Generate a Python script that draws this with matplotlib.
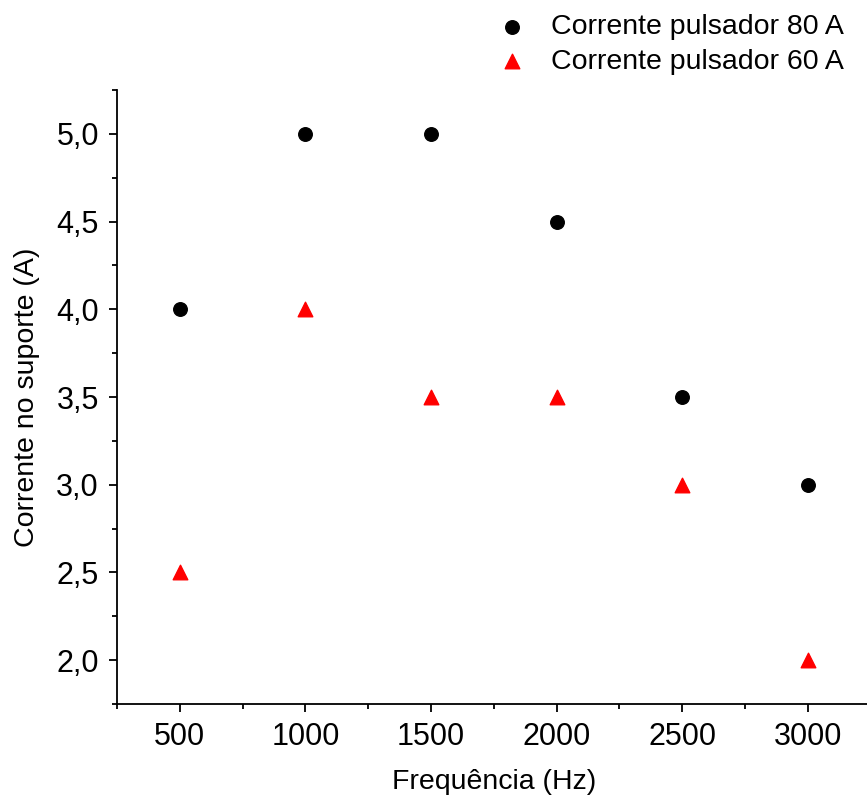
import matplotlib
matplotlib.use("Agg")
import matplotlib.pyplot as plt
from matplotlib.ticker import MultipleLocator, FuncFormatter

plt.rcParams['font.family'] = ['Liberation Sans', 'DejaVu Sans']

freq = [500, 1000, 1500, 2000, 2500, 3000]
i80 = [4.0, 5.0, 5.0, 4.5, 3.5, 3.0]
i60 = [2.5, 4.0, 3.5, 3.5, 3.0, 2.0]

fig = plt.figure(figsize=(8.67, 8.05), dpi=100)
ax = fig.add_axes([117/867, 1-704/805, 753.6/867, (704-90)/805])

ax.scatter(freq, i80, s=95, marker='o', color='black', label='Corrente pulsador 80 A', zorder=3)
ax.scatter(freq, i60, s=110, marker='^', color='red', label='Corrente pulsador 60 A', zorder=3)

ax.set_xlim(250, 3250)
ax.set_ylim(1.75, 5.25)
ax.xaxis.set_major_locator(MultipleLocator(500))
ax.xaxis.set_minor_locator(MultipleLocator(250))
ax.yaxis.set_major_locator(MultipleLocator(0.5))
ax.yaxis.set_minor_locator(MultipleLocator(0.25))
ax.yaxis.set_major_formatter(FuncFormatter(lambda v, p: f'{v:.1f}'.replace('.', ',')))
ax.xaxis.set_major_formatter(FuncFormatter(lambda v, p: f'{v:.0f}'))

for s in ['top', 'right']:
    ax.spines[s].set_visible(False)
for s in ['left', 'bottom']:
    ax.spines[s].set_linewidth(1.3)
ax.tick_params(which='major', direction='out', length=6, width=1.3, labelsize=22, pad=7)
ax.tick_params(which='minor', direction='out', length=3.5, width=1.3)

ax.set_xlabel('Frequência (Hz)', fontsize=20.5, labelpad=12)
ax.set_ylabel('Corrente no suporte (A)', fontsize=20.5, labelpad=12)

fig.legend(loc='upper left', bbox_to_anchor=(0.544, 0.997), frameon=False, fontsize=20.5,
           handletextpad=0.35, labelspacing=0.3, borderaxespad=0.02)

fig.savefig('out.png', dpi=100)
